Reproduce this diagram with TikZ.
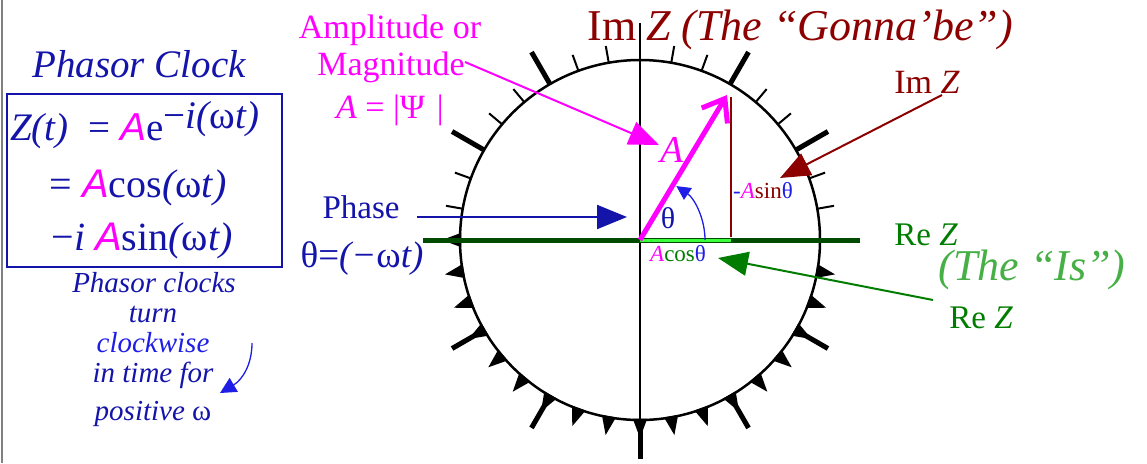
\documentclass[tikz,border=0pt]{standalone}
\usepackage{fontspec}
\setmainfont{Liberation Serif}
\newfontfamily\sansA{Liberation Sans}
\usetikzlibrary{arrows.meta}
\definecolor{navy}{RGB}{20,20,170}
\definecolor{bblue}{RGB}{30,30,230}
\definecolor{dred}{RGB}{140,0,0}
\definecolor{rgreen}{RGB}{0,125,0}
\definecolor{dgreen}{RGB}{0,75,0}
\definecolor{lgreen}{RGB}{60,255,60}
\definecolor{isgreen}{RGB}{70,175,70}
\definecolor{mag}{RGB}{255,0,255}
\newcommand{\fs}[1]{\fontsize{#1}{#1}\selectfont}
\newcommand{\magA}{{\color{mag}\sansA\itshape A}}
\begin{document}
\begin{tikzpicture}[x=1pt,y=-1pt,
  txt/.style={inner sep=0pt, anchor=base},
  bigtip/.style={-{Triangle[length=30pt,width=24pt]}},
  thinTick/.style={line width=2pt},
  thickTick/.style={line width=5pt}]
\useasboundingbox (0,0) rectangle (1147,463);
\draw[gray, line width=2pt] (2,0) -- (2,463);
% clock face
\node[circle, draw, line width=2.5pt, minimum size=360pt, inner sep=0pt] (clock) at (640,240) {};
\foreach \a in {10,20,40,50,70,80,100,110,130,140,160,170}
  \draw[thinTick] ({640+180*cos(\a)},{240-180*sin(\a)}) -- ({640+197*cos(\a)},{240-197*sin(\a)});
\foreach \a in {30,60,120,150,210,240,300,330}
  \draw[thickTick] ({640+180*cos(\a)},{240-180*sin(\a)}) -- ({640+217*cos(\a)},{240-217*sin(\a)});
\foreach \a in {180,190,...,350}
  \fill ({640+179*cos(\a-2.3)},{240-179*sin(\a-2.3)}) -- ({640+198*cos(\a)},{240-198*sin(\a)}) -- ({640+179*cos(\a+2.3)},{240-179*sin(\a+2.3)}) -- cycle;
% axes
\coordinate (vTop) at (640,23);
\coordinate (vBot) at (640,459);
\coordinate (vTick) at (640,421);
\draw[line width=2pt] (vTop) -- (vBot);
\draw[thickTick] (vTick) -- (vBot);
\coordinate (hL) at (423,240);
\coordinate (hR) at (860,240);
\coordinate (O) at (640,240);
\coordinate (Cx) at (731,240);
\draw[dgreen, line width=5pt] (hL) -- (hR);
\draw[lgreen, line width=3pt] (O) -- (Cx);
\coordinate (sTop) at (731,97);
\coordinate (sBot) at (731,237);
\draw[dred, line width=2pt] (sTop) -- (sBot);
% phasor
\coordinate (P) at (727,95);
\draw[mag, line width=5pt, -{Straight Barb[length=20pt,width=30pt]}] (O) -- (P);
\draw[bblue, line width=1.3pt, -{Triangle[length=14pt,width=14pt]}] (705,240) arc[start angle=0, end angle=-56, radius=65];
\node[mag, font=\fs{38}\itshape] (Alab) at (672,150) {A};
\node[navy, font=\fs{30}] (th) at (668,218) {θ};
\node[anchor=west, inner sep=0pt, font=\fs{23}] (asin) at (733,191) {{\color{bblue}-}{\color{mag}\itshape A}{\color{dred}sin}{\color{bblue}θ}};
\node[anchor=west, inner sep=0pt, font=\fs{23}] (acos) at (650,254) {{\color{mag}\itshape A}{\color{rgreen}cos}{\color{bblue}θ}};
% left panel
\node[txt, navy, font=\fs{39}\itshape] (title) at (139,77) {Phasor Clock};
\node[draw=navy, line width=1.5pt, minimum width=275pt, minimum height=173pt, inner sep=0pt] (box) at (144.5,180.5) {};
\node[txt, anchor=base west, navy, font=\fs{39}] (eq1) at (10,140) {{\itshape Z(t)}\hspace{20pt}= \magA e\raisebox{12pt}{−{\itshape i(}ω{\itshape t)}}};
\node[txt, navy, font=\fs{40}] (eq2) at (138,197) {= \magA cos{\itshape(}ω{\itshape t)}};
\node[txt, navy, font=\fs{40}] (eq3) at (142,250) {−{\itshape i} \magA sin{\itshape(}ω{\itshape t)}};
\node[txt, navy, font=\fs{29}\itshape] (pc1) at (154,292) {Phasor clocks};
\node[txt, navy, font=\fs{29}\itshape] (pc2) at (153,322) {turn};
\node[txt, bblue, font=\fs{29}\itshape] (pc3) at (153,352) {clockwise};
\node[txt, navy, font=\fs{29}\itshape] (pc4) at (153,382) {in time for};
\node[txt, navy, font=\fs{29}\itshape] (pc5) at (153,420) {positive \upshape ω};
\coordinate (cwA) at (252,343);
\coordinate (cwB) at (220,393);
\draw[bblue, line width=1.3pt, -{Triangle[length=16pt,width=16pt]}] (cwA) .. controls (252,365) and (242,380) .. (cwB);
% amplitude
\node[txt, mag, font=\fs{34}] (amp1) at (390,38) {Amplitude or};
\node[txt, mag, font=\fs{34}] (amp2) at (391,75) {Magnitude};
\node[txt, mag, font=\fs{34}] (amp3) at (390,118) {{\itshape A} = |Ψ\hspace{12pt}|};
\coordinate (ampS) at (465,62);
\coordinate (ampT) at (659,145);
\draw[mag, line width=2pt, bigtip] (ampS) -- (ampT);
% phase
\node[txt, navy, font=\fs{33}] (phase) at (361,218) {Phase};
\node[txt, navy, font=\fs{37}] (phEq) at (362,267) {θ=\itshape(−\upshape ω\itshape t)};
\coordinate (phS) at (417,217);
\coordinate (phT) at (627,217);
\draw[navy, line width=2pt, bigtip] (phS) -- (phT);
% Im
\node[txt, anchor=base east, dred, font=\fs{44}] (im1) at (637,40) {Im};
\node[txt, anchor=base west, dred, font=\fs{44}\itshape] (im2) at (646,40) {Z (The “Gonna’be”)};
\node[txt, dred, font=\fs{34}] (imz) at (927,93) {Im {\itshape Z}};
\coordinate (imS) at (942,95);
\coordinate (imT) at (780,178);
\draw[dred, line width=2pt, bigtip] (imS) -- (imT);
% Re
\node[txt, rgreen, font=\fs{33}] (rez1) at (926,245) {Re {\itshape Z}};
\node[txt, isgreen, font=\fs{44}\itshape] (is) at (1032,280) {(The “Is”)};
\node[txt, rgreen, font=\fs{33}] (rez2) at (981,328) {Re {\itshape Z}};
\coordinate (reS) at (933,300);
\coordinate (reT) at (718,258);
\draw[rgreen, line width=2pt, bigtip] (reS) -- (reT);
\end{tikzpicture}
\end{document}
